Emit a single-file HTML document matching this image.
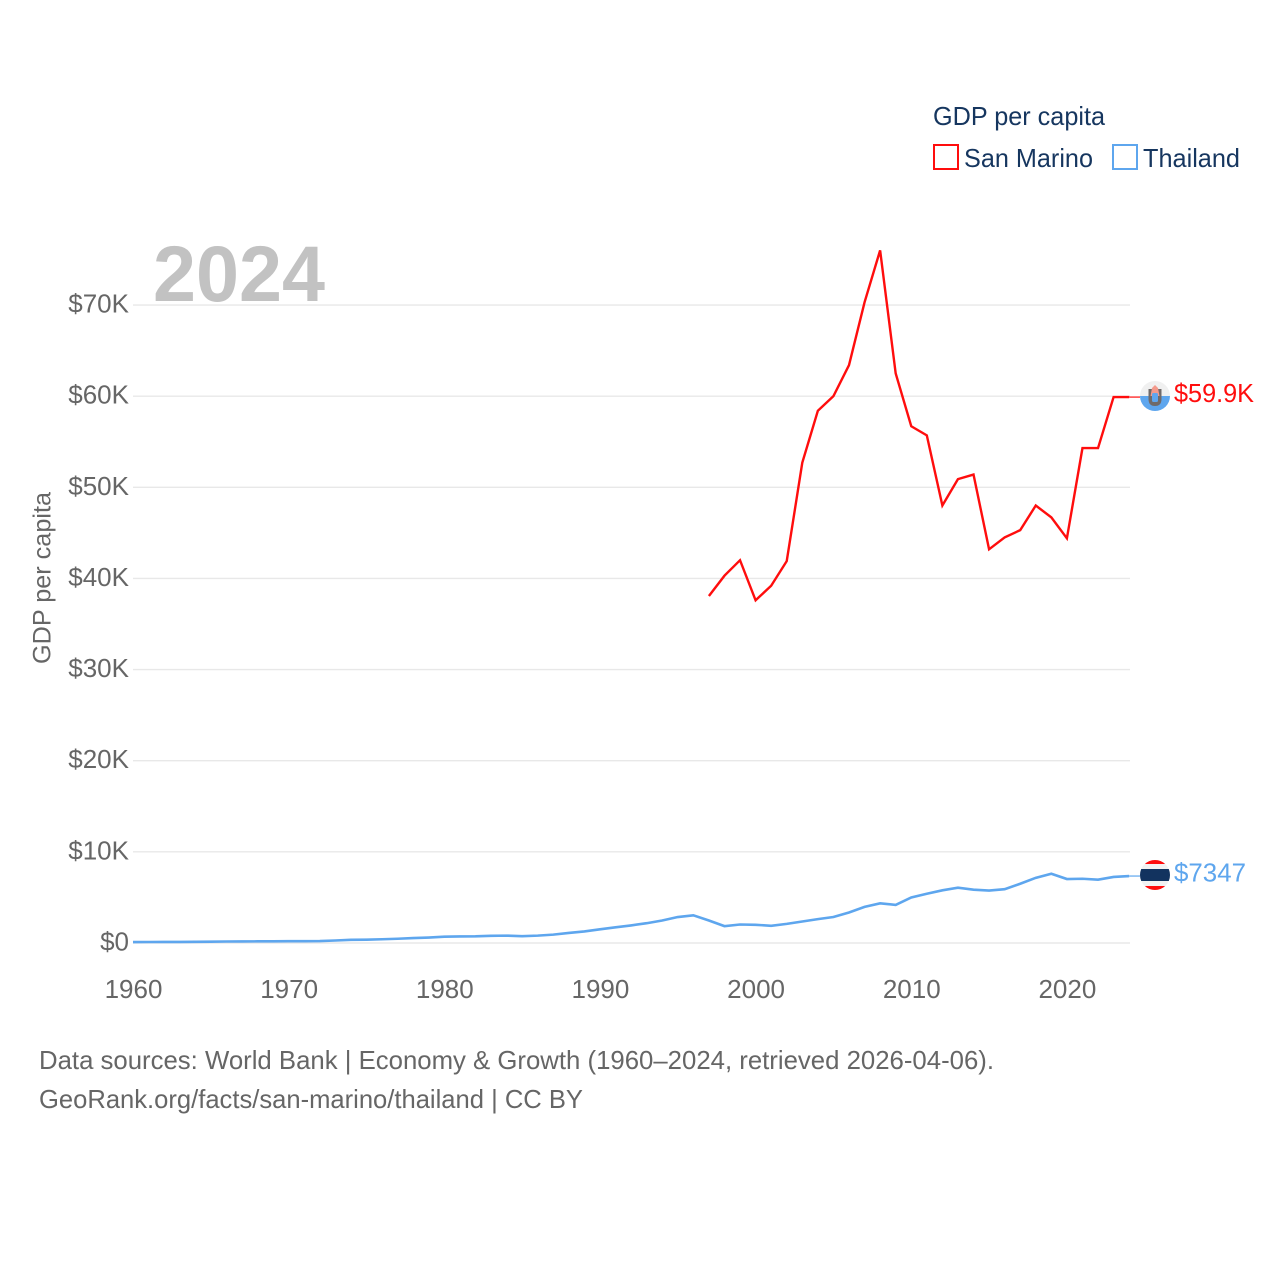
<!DOCTYPE html>
<html lang="en">
<head>
<meta charset="utf-8">
<title>GDP per capita: San Marino and Thailand</title>
<style>
html,body{margin:0;padding:0;background:#fff;}
svg{display:block;}
text{font-family:"Liberation Sans",sans-serif;}
</style>
</head>
<body>
<svg id="chart" xmlns="http://www.w3.org/2000/svg" width="1280" height="1280" viewBox="0 0 1280 1280">
  <rect x="0" y="0" width="1280" height="1280" fill="#ffffff"/>
  <g id="grid"></g>
  <g id="yticks"></g>
  <g id="xticks"></g>
  <text x="153" y="301" font-size="79" font-weight="700" fill="#c2c2c2" textLength="172" lengthAdjust="spacingAndGlyphs">2024</text>
  <text transform="translate(50.5 664) rotate(-90)" font-size="25" fill="#666666" textLength="172" lengthAdjust="spacingAndGlyphs">GDP per capita</text>
  <g id="series"></g>

  <g>
    <clipPath id="smclip"><circle cx="1155" cy="396" r="15"/></clipPath>
    <g clip-path="url(#smclip)">
      <rect x="1140" y="381" width="30" height="15" fill="#f0f0f0"/>
      <rect x="1140" y="396" width="30" height="15" fill="#5ea6ee"/>
      <path d="M1148.500 389 L1161.500 389 L1161.500 399 Q1161.500 406 1155 406 Q1148.500 406 1148.500 399 Z" fill="#6f6a6a"/>
      <path d="M1150.500 396 L1152 388 L1155 385 L1158 388 L1159.500 396 Z" fill="#f39a8c"/>
      <rect x="1152" y="393" width="6" height="9" rx="1.500" fill="#5ea6ee"/>
    </g>
  </g>
  <g>
    <clipPath id="thclip"><circle cx="1155" cy="875" r="15"/></clipPath>
    <g clip-path="url(#thclip)">
      <rect x="1140" y="860" width="30" height="30" fill="#f2f2f2"/>
      <rect x="1140" y="860" width="30" height="4" fill="#ff0d0d"/>
      <rect x="1140" y="886" width="30" height="4" fill="#ff0d0d"/>
      <rect x="1140" y="869" width="30" height="12" fill="#12335f"/>
    </g>
  </g>
  <text x="1174" y="402" font-size="26" fill="#ff0d0d" textLength="80" lengthAdjust="spacingAndGlyphs">$59.9K</text>
  <text x="1174" y="881.500" font-size="26" fill="#5ea6ee" textLength="72" lengthAdjust="spacingAndGlyphs">$7347</text>

  <g>
    <text x="933" y="125" font-size="26" fill="#16365f" textLength="172" lengthAdjust="spacingAndGlyphs">GDP per capita</text>
    <rect x="934" y="145" width="24" height="24" fill="none" stroke="#ff0d0d" stroke-width="2"/>
    <text x="964" y="167" font-size="26" fill="#16365f" textLength="129" lengthAdjust="spacingAndGlyphs">San Marino</text>
    <rect x="1113" y="145" width="24" height="24" fill="none" stroke="#5ea6ee" stroke-width="2"/>
    <text x="1143" y="167" font-size="26" fill="#16365f" textLength="97" lengthAdjust="spacingAndGlyphs">Thailand</text>
  </g>

  <text x="39" y="1069" font-size="26" fill="#666666" textLength="955" lengthAdjust="spacingAndGlyphs">Data sources: World Bank | Economy &amp; Growth (1960–2024, retrieved 2026-04-06).</text>
  <text x="39" y="1108" font-size="26" fill="#666666" textLength="544" lengthAdjust="spacingAndGlyphs">GeoRank.org/facts/san-marino/thailand | CC BY</text>
</svg>
<script>
const yTickValues = [0, 10000, 20000, 30000, 40000, 50000, 60000, 70000];
const yTickLabels = ["$0", "$10K", "$20K", "$30K", "$40K", "$50K", "$60K", "$70K"];
const xTickYears = [1960, 1970, 1980, 1990, 2000, 2010, 2020];
const xTickLabels = ["1960", "1970", "1980", "1990", "2000", "2010", "2020"];

const sanMarinoYears = [1997, 1998, 1999, 2000, 2001, 2002, 2003, 2004, 2005, 2006, 2007, 2008, 2009, 2010, 2011, 2012, 2013, 2014, 2015, 2016, 2017, 2018, 2019, 2020, 2021, 2022, 2023, 2024];
const sanMarinoValues = [38070, 40300, 42000, 37600, 39200, 41900, 52700, 58400, 60000, 63400, 70300, 76000, 62500, 56700, 55700, 48000, 50900, 51400, 43200, 44500, 45300, 48000, 46700, 44400, 54300, 54300, 59900, 59900];

const thailandYears = [1960, 1961, 1962, 1963, 1964, 1965, 1966, 1967, 1968, 1969, 1970, 1971, 1972, 1973, 1974, 1975, 1976, 1977, 1978, 1979, 1980, 1981, 1982, 1983, 1984, 1985, 1986, 1987, 1988, 1989, 1990, 1991, 1992, 1993, 1994, 1995, 1996, 1997, 1998, 1999, 2000, 2001, 2002, 2003, 2004, 2005, 2006, 2007, 2008, 2009, 2010, 2011, 2012, 2013, 2014, 2015, 2016, 2017, 2018, 2019, 2020, 2021, 2022, 2023, 2024];
const thailandValues = [101, 110, 115, 120, 130, 140, 165, 170, 180, 190, 195, 200, 215, 275, 345, 365, 410, 465, 540, 600, 690, 715, 730, 790, 810, 750, 810, 920, 1100, 1270, 1500, 1720, 1930, 2170, 2470, 2850, 3040, 2470, 1850, 2030, 2000, 1890, 2100, 2360, 2620, 2850, 3350, 3960, 4350, 4180, 5000, 5400, 5780, 6070, 5850, 5750, 5900, 6500, 7150, 7600, 7020, 7050, 6950, 7250, 7347];

const SVG_NS = "http://www.w3.org/2000/svg";
const xScale = function (year) { return 133 + (year - 1960) * 15.565; };
const yScale = function (value) { return 943 - value * 0.009114; };

const gridGroup = document.getElementById("grid");
const yTickGroup = document.getElementById("yticks");
yTickValues.forEach(function (value, i) {
  const line = document.createElementNS(SVG_NS, "line");
  
  
  line.setAttribute("x1", 133);
  line.setAttribute("x2", 1130);
  line.setAttribute("y1", yScale(value));
  line.setAttribute("y2", yScale(value));
  line.setAttribute("stroke", "#e8e8e8");
  line.setAttribute("stroke-width", "1.4");
  gridGroup.appendChild(line);

  const label = document.createElementNS(SVG_NS, "text");
  
  
  label.setAttribute("x", 129);
  label.setAttribute("y", yScale(value) + 7.5);
  label.setAttribute("text-anchor", "end");
  label.setAttribute("font-size", "26");
  label.setAttribute("fill", "#666666");
  label.textContent = yTickLabels[i];
  yTickGroup.appendChild(label);
});

const xTickGroup = document.getElementById("xticks");
xTickYears.forEach(function (year, i) {
  const label = document.createElementNS(SVG_NS, "text");
  
  
  label.setAttribute("x", xScale(year) + 0.5);
  label.setAttribute("y", 998);
  label.setAttribute("text-anchor", "middle");
  label.setAttribute("font-size", "26");
  label.setAttribute("fill", "#666666");
  label.textContent = xTickLabels[i];
  xTickGroup.appendChild(label);
});

const seriesGroup = document.getElementById("series");
function pointsFor(years, values) {
  return years.map(function (year, i) {
    return xScale(year).toFixed(2) + "," + yScale(values[i]).toFixed(2);
  }).join(" ");
}

const sanMarinoLine = document.createElementNS(SVG_NS, "polyline");


sanMarinoLine.setAttribute("points", pointsFor(sanMarinoYears, sanMarinoValues));
sanMarinoLine.setAttribute("fill", "none");
sanMarinoLine.setAttribute("stroke", "#ff0d0d");
sanMarinoLine.setAttribute("stroke-width", "2.4");
sanMarinoLine.setAttribute("stroke-linejoin", "miter");
seriesGroup.appendChild(sanMarinoLine);

const thailandLine = document.createElementNS(SVG_NS, "polyline");


thailandLine.setAttribute("points", pointsFor(thailandYears, thailandValues));
thailandLine.setAttribute("fill", "none");
thailandLine.setAttribute("stroke", "#5ea6ee");
thailandLine.setAttribute("stroke-width", "2.6");
seriesGroup.appendChild(thailandLine);

const sanMarinoConnector = document.createElementNS(SVG_NS, "line");


sanMarinoConnector.setAttribute("x1", xScale(2024));
sanMarinoConnector.setAttribute("x2", 1140);
sanMarinoConnector.setAttribute("y1", yScale(sanMarinoValues[sanMarinoValues.length - 1]));
sanMarinoConnector.setAttribute("y2", yScale(sanMarinoValues[sanMarinoValues.length - 1]));
sanMarinoConnector.setAttribute("stroke", "#ff0d0d");
sanMarinoConnector.setAttribute("stroke-width", "1.2");
seriesGroup.appendChild(sanMarinoConnector);

const thailandConnector = document.createElementNS(SVG_NS, "line");


thailandConnector.setAttribute("x1", xScale(2024));
thailandConnector.setAttribute("x2", 1140);
thailandConnector.setAttribute("y1", yScale(thailandValues[thailandValues.length - 1]));
thailandConnector.setAttribute("y2", yScale(thailandValues[thailandValues.length - 1]));
thailandConnector.setAttribute("stroke", "#5ea6ee");
thailandConnector.setAttribute("stroke-width", "1.2");
seriesGroup.appendChild(thailandConnector);
</script>
</body>
</html>
